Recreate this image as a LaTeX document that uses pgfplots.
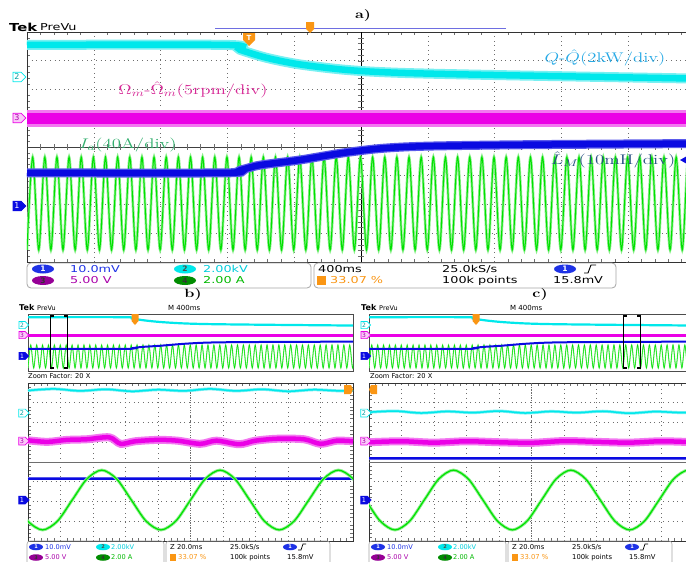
\RequirePackage{fix-cm}
\documentclass[border=0pt]{standalone}
\usepackage{pgfplots}
\pgfplotsset{compat=1.18}
\usepackage{pgfplotstable}
\usepackage{fontspec}
\usetikzlibrary{shapes.symbols,shapes.geometric}
\newfontfamily\tekfont{DejaVu Sans}
\newcommand\tk[1]{\scalebox{1.35}[1]{#1}}
\newcommand\fs[1]{\fontsize{#1}{#1}\selectfont}
\definecolor{chcyan}{RGB}{0,232,235}
\definecolor{chcyanl}{RGB}{120,240,242}
\definecolor{chmag}{RGB}{235,0,230}
\definecolor{chmagl}{RGB}{242,120,240}
\definecolor{chblue}{RGB}{10,10,225}
\definecolor{chbluel}{RGB}{90,90,235}
\definecolor{chgreen}{RGB}{0,225,0}
\definecolor{chgreenl}{RGB}{140,240,140}
\definecolor{tekorange}{RGB}{250,150,20}
\definecolor{labmag}{RGB}{215,40,150}
\definecolor{labcyan}{RGB}{40,170,230}
\definecolor{labgreen}{RGB}{50,175,110}
\definecolor{labblue}{RGB}{40,80,130}
\definecolor{stblue}{RGB}{30,50,230}
\definecolor{stcyan}{RGB}{0,205,220}
\definecolor{stpurple}{RGB}{150,0,150}
\definecolor{stmag}{RGB}{170,0,170}
\definecolor{stgreen}{RGB}{0,140,0}
\definecolor{sttxtgreen}{RGB}{0,185,0}
\definecolor{gridgray}{RGB}{110,110,110}
\definecolor{barblue}{RGB}{110,110,225}

\pgfplotstableread{
x y
0.000 -3.58
0.085 -0.35
0.176 -3.58
0.267 -0.35
0.358 -3.58
0.448 -0.35
0.539 -3.58
0.630 -0.35
0.721 -3.58
0.812 -0.35
0.903 -3.58
0.994 -0.35
1.085 -3.58
1.175 -0.35
1.266 -3.58
1.357 -0.35
1.448 -3.58
1.539 -0.35
1.630 -3.58
1.721 -0.35
1.812 -3.58
1.902 -0.35
1.993 -3.58
2.084 -0.35
2.175 -3.58
2.266 -0.35
2.357 -3.58
2.448 -0.35
2.539 -3.58
2.629 -0.35
2.720 -3.58
2.811 -0.35
2.902 -3.58
2.993 -0.35
3.084 -3.58
3.175 -0.35
3.266 -3.58
3.356 -0.35
3.447 -3.58
3.538 -0.35
3.629 -3.58
3.720 -0.35
3.811 -3.58
3.902 -0.35
3.993 -3.58
4.083 -0.35
4.174 -3.58
4.265 -0.35
4.356 -3.58
4.447 -0.35
4.538 -3.58
4.629 -0.35
4.720 -3.58
4.810 -0.35
4.901 -3.58
4.992 -0.35
5.083 -3.58
5.174 -0.35
5.265 -3.58
5.356 -0.35
5.447 -3.58
5.537 -0.35
5.628 -3.58
5.719 -0.35
5.810 -3.58
5.901 -0.35
5.992 -3.58
6.083 -0.35
6.174 -3.58
6.264 -0.35
6.355 -3.58
6.446 -0.35
6.537 -3.58
6.628 -0.35
6.719 -3.58
6.810 -0.35
6.901 -3.58
6.991 -0.35
7.082 -3.58
7.173 -0.35
7.264 -3.58
7.355 -0.35
7.446 -3.58
7.537 -0.35
7.628 -3.58
7.718 -0.35
7.809 -3.58
7.900 -0.35
7.991 -3.58
8.082 -0.35
8.173 -3.58
8.264 -0.35
8.355 -3.58
8.445 -0.35
8.536 -3.58
8.627 -0.35
8.718 -3.58
8.809 -0.35
8.900 -3.58
8.991 -0.35
9.082 -3.58
9.172 -0.35
9.263 -3.58
9.354 -0.35
9.445 -3.58
9.536 -0.35
9.627 -3.58
9.718 -0.35
9.809 -3.58
9.899 -0.35
9.990 -3.58
10.081 -0.35
}\greenA
\pgfplotstableread{
x y
0.00 3.55
3.00 3.55
3.19 3.38
3.59 3.10
4.09 2.87
4.79 2.68
5.58 2.58
7.08 2.50
10.00 2.38
}\cyanA
\pgfplotstableread{
x y
0 0.98
10 0.98
}\magA
\pgfplotstableread{
x y
0.00 -0.90
2.96 -0.90
3.20 -0.80
3.49 -0.63
4.09 -0.45
4.69 -0.22
5.30 -0.05
6.00 0.03
7.50 0.08
10.00 0.12
}\blueA
\pgfplotstableread{
x y
-0.46 -1.925
-0.005 -2.996
0.45 -3.44
0.905 -2.996
1.36 -1.925
1.815 -0.854
2.27 -0.41
2.725 -0.854
3.18 -1.925
3.635 -2.996
4.09 -3.44
4.545 -2.996
5.00 -1.925
5.455 -0.854
5.91 -0.41
6.365 -0.854
6.82 -1.925
7.275 -2.996
7.73 -3.44
8.185 -2.996
8.64 -1.925
9.095 -0.854
9.55 -0.41
10.005 -0.854
10.46 -1.925
}\greenB
\pgfplotstableread{
x y
0.0 3.62
0.8 3.70
1.6 3.60
2.4 3.68
3.2 3.58
4.0 3.66
4.8 3.60
5.6 3.70
6.4 3.60
7.2 3.68
8.0 3.58
8.8 3.66
9.6 3.60
10.0 3.64
}\cyanB
\pgfplotstableread{
x y
0.0 1.10
0.6 1.02
1.2 1.12
1.8 1.15
2.5 1.25
2.85 0.92
3.3 1.05
4.0 1.12
4.6 1.08
5.3 0.92
5.8 1.08
6.5 0.90
7.0 1.08
7.7 1.18
8.5 1.15
9.0 0.92
9.5 1.08
10.0 1.05
}\magB
\pgfplotstableread{
x y
0 -0.86
10 -0.86
}\blueB
\pgfplotstableread{
x y
-1.01 -0.41
-0.5575 -0.854
-0.105 -1.925
0.3475 -2.996
0.80 -3.44
1.25 -2.996
1.70 -1.925
2.15 -0.854
2.60 -0.41
3.0525 -0.854
3.505 -1.925
3.9575 -2.996
4.41 -3.44
4.86 -2.996
5.31 -1.925
5.76 -0.854
6.21 -0.41
6.6625 -0.854
7.115 -1.925
7.5675 -2.996
8.02 -3.44
8.4725 -2.996
8.925 -1.925
9.3775 -0.854
9.83 -0.41
10.28 -0.854
}\greenC
\pgfplotstableread{
x y
0.0 2.52
0.8 2.58
1.6 2.48
2.4 2.56
3.2 2.50
4.0 2.58
4.8 2.48
5.6 2.56
6.4 2.50
7.2 2.57
8.0 2.47
8.8 2.55
9.6 2.50
10.0 2.53
}\cyanC
\pgfplotstableread{
x y
0 1.00
1 1.05
2 0.98
3 1.05
4 1.00
5 0.97
6 1.06
7 1.02
8 0.98
9 1.05
10 1.00
}\magC
\pgfplotstableread{
x y
0 0.20
10 0.20
}\blueC

\pgfplotsset{
  tekgrid/.style={scale only axis, xmin=0, xmax=10, ymin=-4, ymax=4,
    xtick={0,...,10}, ytick={-4,...,4}, xticklabels={}, yticklabels={},
    grid=major, major grid style={draw=gridgray, line width=0.6pt, dash pattern=on 0.6pt off 4pt},
    major tick length=0pt, minor x tick num=4, minor y tick num=4,
    minor tick length=3pt, minor tick style={gridgray, line width=0.4pt},
    axis line style={draw=gray!40!black, line width=0.6pt}, clip=true},
  ovw/.style={scale only axis, xmin=0, xmax=10, ymin=-4, ymax=4,
    xtick=\empty, ytick=\empty,
    axis line style={draw=gray!60!black, line width=0.5pt}, clip=true},
}

% channel marker: x y size draw fill text label
\newcommand\chm[7]{\node[signal, signal to=east, draw=#4, fill=#5, text=#6,
  line width=0.7pt, inner xsep=1pt, inner ysep=0.3pt, minimum width=1.6*#3pt, minimum height=1.2*#3pt,
  font=\tekfont\fs{#3}] at ({#1},{#2}) {#7};}
% oval: x y w h fill textcolor label fontsize
\newcommand\ov[8]{\node[ellipse, fill=#5, minimum width=#3pt, minimum height=#4pt, inner sep=0pt,
  text=#6, font=\tekfont\bfseries\fs{#8}] at ({#1},{#2}) {#7};}

\newcommand\bcdeco[1]{%
  \node[anchor=west, font=\tekfont\bfseries\fs{8}] at ({#1+19},308) {Tek};
  \node[anchor=west, font=\tekfont\fs{6.5}] at ({#1+37},308) {PreVu};
  \node[anchor=west, font=\tekfont\fs{7}] at ({#1+168},308) {M 400ms};
  \node[anchor=west, font=\tekfont\fs{6.7}] at ({#1+28},376) {Zoom Factor: 20 X};
  \chm{#1+22}{325}{6}{chcyan}{white}{chcyan!70!black}{2}
  \chm{#1+22}{335}{6}{chmag}{chmagl!40}{stmag}{3}
  \chm{#1+22}{356}{6}{chblue}{chblue}{white}{1}
  \chm{#1+22}{413}{6.5}{chcyan}{white}{chcyan!70!black}{2}
  \chm{#1+22}{441}{6.5}{chmag}{chmagl!40}{stmag}{3}
  \chm{#1+22}{500}{6.5}{chblue}{chblue}{white}{1}
  \draw[gray!70, line width=0.6pt, rounded corners=3pt] ({#1+27},541) rectangle ({#1+164},567);
  \draw[gray!70, line width=0.6pt, rounded corners=3pt] ({#1+166},541) rectangle ({#1+330},567);
  \ov{#1+36}{547}{14}{6.5}{stblue}{white}{1}{5}
  \ov{#1+103}{547}{14}{6.5}{chcyan}{black!70}{2}{5}
  \ov{#1+36}{557.5}{14}{6.5}{stpurple}{black!80}{3}{5}
  \ov{#1+103}{557.5}{14}{6.5}{stgreen}{black!80}{4}{5}
  \ov{#1+290}{547}{14}{6.5}{stblue}{white}{1}{5}
  \node[anchor=west, text=stblue, font=\tekfont\fs{6.6}] at ({#1+45},547) {10.0mV};
  \node[anchor=west, text=stcyan, font=\tekfont\fs{6.6}] at ({#1+111},547) {2.00kV};
  \node[anchor=west, text=stmag, font=\tekfont\fs{6.6}] at ({#1+45},557.5) {5.00 V};
  \node[anchor=west, text=sttxtgreen, font=\tekfont\fs{6.6}] at ({#1+111},557.5) {2.00 A};
  \node[anchor=west, font=\tekfont\fs{6.8}] at ({#1+170},547) {Z 20.0ms};
  \node[anchor=west, font=\tekfont\fs{6.8}] at ({#1+230},547) {25.0kS/s};
  \node[anchor=west, font=\tekfont\fs{6.8}] at ({#1+230},557.5) {100k points};
  \node[anchor=west, font=\tekfont\fs{6.8}] at ({#1+287},557.5) {15.8mV};
  \fill[tekorange] ({#1+170},554) rectangle ({#1+176},561);
  \node[anchor=west, text=tekorange, font=\tekfont\fs{6.8}] at ({#1+178},557.5) {33.07 \%};
  \draw[black, line width=0.7pt] ({#1+298},550) -- ({#1+301},550) -- ({#1+303},544) -- ({#1+306},544);
}

\begin{document}
\begin{tikzpicture}
\useasboundingbox (0pt,0pt) rectangle (686pt,-562pt);
\fill[white] (0pt,0pt) rectangle (686pt,-562pt);
\clip (0pt,0pt) rectangle (686pt,-562pt);

% ---------- panel a ----------
\begin{axis}[tekgrid, at={(27pt,-32pt)}, anchor=north west, width=668pt, height=230pt]
\draw[black, line width=1pt] (axis cs:5,-4) -- (axis cs:5,4);
\draw[black!75, line width=0.8pt] (axis cs:0,0) -- (axis cs:10,0);
\pgfplotsinvokeforeach{0.2,0.4,...,9.8}{\draw[gridgray, line width=0.4pt] (axis cs:#1,-0.1) -- (axis cs:#1,0.1);}
\pgfplotsinvokeforeach{-3.8,-3.6,...,3.8}{\draw[gridgray, line width=0.4pt] (axis cs:4.955,#1) -- (axis cs:5.045,#1);}
\addplot[chgreenl, line width=2.6pt, smooth] table {\greenA};
\addplot[chgreen, line width=1pt, smooth] table {\greenA};
\addplot[chcyanl, line width=10pt, smooth] table {\cyanA};
\addplot[chcyan, line width=6.5pt, smooth] table {\cyanA};
\addplot[chmagl, line width=17pt] table {\magA};
\addplot[chmag, line width=11pt] table {\magA};
\addplot[chbluel, line width=9pt, smooth] table {\blueA};
\addplot[chblue, line width=6.5pt, smooth] table {\blueA};
\end{axis}

% ---------- panel b overview ----------
\begin{axis}[ovw, at={(28pt,-314pt)}, anchor=north west, width=325pt, height=57pt]
\addplot[chgreenl, line width=1.1pt, smooth] table {\greenA};
\addplot[chgreen, line width=0.5pt, smooth] table {\greenA};
\addplot[chcyan, line width=2.2pt, smooth] table {\cyanA};
\addplot[chmag, line width=3.5pt] table {\magA};
\addplot[chblue, line width=2pt, smooth] table {\blueA};
\end{axis}
% ---------- panel c overview ----------
\begin{axis}[ovw, at={(369pt,-314pt)}, anchor=north west, width=325pt, height=57pt]
\addplot[chgreenl, line width=1.1pt, smooth] table {\greenA};
\addplot[chgreen, line width=0.5pt, smooth] table {\greenA};
\addplot[chcyan, line width=2.2pt, smooth] table {\cyanA};
\addplot[chmag, line width=3.5pt] table {\magA};
\addplot[chblue, line width=2pt, smooth] table {\blueA};
\end{axis}

% ---------- panel b zoom ----------
\begin{axis}[tekgrid, at={(28pt,-383pt)}, anchor=north west, width=325pt, height=158pt]
\draw[gridgray, line width=0.7pt, dash pattern=on 1pt off 1.5pt] (axis cs:5,-4) -- (axis cs:5,4);
\draw[gridgray, line width=0.6pt] (axis cs:0,0) -- (axis cs:10,0);
\addplot[chbluel, line width=3pt] table {\blueB};
\addplot[chblue, line width=1.8pt] table {\blueB};
\addplot[chgreenl, line width=3pt, smooth] table {\greenB};
\addplot[chgreen, line width=1.2pt, smooth] table {\greenB};
\addplot[chcyanl, line width=3pt, smooth] table {\cyanB};
\addplot[chcyan, line width=1.5pt, smooth] table {\cyanB};
\addplot[chmagl, line width=8pt, smooth] table {\magB};
\addplot[chmag, line width=4.5pt, smooth] table {\magB};
\end{axis}
% ---------- panel c zoom ----------
\begin{axis}[tekgrid, at={(369pt,-383pt)}, anchor=north west, width=325pt, height=158pt]
\draw[gridgray, line width=0.7pt, dash pattern=on 1pt off 1.5pt] (axis cs:5,-4) -- (axis cs:5,4);
\draw[gridgray, line width=0.6pt] (axis cs:0,0) -- (axis cs:10,0);
\addplot[chbluel, line width=3pt] table {\blueC};
\addplot[chblue, line width=1.8pt] table {\blueC};
\addplot[chgreenl, line width=3pt, smooth] table {\greenC};
\addplot[chgreen, line width=1.2pt, smooth] table {\greenC};
\addplot[chcyanl, line width=3pt, smooth] table {\cyanC};
\addplot[chcyan, line width=1.5pt, smooth] table {\cyanC};
\addplot[chmagl, line width=8pt, smooth] table {\magC};
\addplot[chmag, line width=4.5pt, smooth] table {\magC};
\end{axis}

% ---------- decorations ----------
\begin{scope}[x=1pt, y=-1pt, every node/.style={inner sep=0pt}]
% panel a header
\node[anchor=west, font=\tekfont\bfseries\fs{11}] at (9,27) {\tk{Tek}};
\node[anchor=west, font=\tekfont\fs{9.5}] at (40,27) {\tk{PreVu}};
\draw[barblue, line width=1pt] (215,28) -- (506,28);
\fill[tekorange] (306,22) -- (314,22) -- (314,29) -- (310,33) -- (306,29) -- cycle;
\node[font=\bfseries\fs{12}] at (363,16) {\tk{a)}};
\fill[tekorange] (243,33) -- (255,33) -- (255,40) -- (249,46) -- (243,40) -- cycle;
\node[text=white, font=\tekfont\bfseries\fs{7}] at (249,38) {T};
% labels
\node[text=labmag, font=\fs{14}] at (193,90) {\tk{$\Omega_m$-$\hat{\Omega}_m$(5rpm/div)}};
\node[text=labcyan, font=\fs{14}] at (605,58) {\tk{$Q$-$\hat{Q}$(2kW/div)}};
\node[text=labgreen, font=\fs{14}] at (128,145) {\tk{$I_a$(40A/div)}};
\node[text=labblue, font=\fs{14}] at (613,160) {\tk{$\hat{L}_M$(10mH/div)}};
\fill[chblue] (680,160) -- (687,156) -- (687,164) -- cycle;
% channel markers a
\chm{17}{77}{8}{chcyan}{white}{chcyan!70!black}{2}
\chm{17}{118}{8}{chmag}{chmagl!40}{stmag}{3}
\chm{17}{206}{8}{chblue}{chblue}{white}{1}
% status a
\draw[gray!70, line width=0.8pt, rounded corners=4pt] (27,263) rectangle (311,288);
\draw[gray!70, line width=0.8pt, rounded corners=4pt] (314,263) rectangle (616,288);
\ov{43}{269}{22}{9}{stblue}{white}{1}{7.5}
\ov{185}{269}{22}{9}{chcyan}{black!70}{2}{7.5}
\ov{43}{280.5}{22}{9}{stpurple}{black!80}{3}{7.5}
\ov{185}{280.5}{22}{9}{stgreen}{black!80}{4}{7.5}
\ov{565}{269}{22}{9}{stblue}{white}{1}{7.5}
\node[anchor=west, text=stblue, font=\tekfont\fs{9.5}] at (70,269) {\tk{10.0mV}};
\node[anchor=west, text=stcyan, font=\tekfont\fs{9.5}] at (203,269) {\tk{2.00kV}};
\node[anchor=west, text=stmag, font=\tekfont\fs{9.5}] at (70,280.5) {\tk{5.00 V}};
\node[anchor=west, text=sttxtgreen, font=\tekfont\fs{9.5}] at (203,280.5) {\tk{2.00 A}};
\node[anchor=west, font=\tekfont\fs{9.5}] at (318,269) {\tk{400ms}};
\node[anchor=west, font=\tekfont\fs{9.5}] at (442,269) {\tk{25.0kS/s}};
\node[anchor=west, font=\tekfont\fs{9.5}] at (442,280.5) {\tk{100k points}};
\node[anchor=west, font=\tekfont\fs{9.5}] at (553,280.5) {\tk{15.8mV}};
\fill[tekorange] (317,276) rectangle (326,285);
\node[anchor=west, text=tekorange, font=\tekfont\fs{9.5}] at (330,280.5) {\tk{33.07 \%}};
\draw[black, line width=0.9pt] (584,273) -- (588,273) -- (591,265) -- (596,265);
% panels b, c
\node[font=\bfseries\fs{12}] at (193,295) {\tk{b)}};
\node[font=\bfseries\fs{12}] at (540,295) {\tk{c)}};
\bcdeco{0}
\bcdeco{342}
% brackets
\draw[black, line width=1.4pt] (54,316) -- (50.5,316) -- (50.5,368) -- (54,368);
\draw[black, line width=1.4pt] (64,316) -- (67.5,316) -- (67.5,368) -- (64,368);
\draw[black, line width=1.4pt] (627,316) -- (623.5,316) -- (623.5,368) -- (627,368);
\draw[black, line width=1.4pt] (637,316) -- (640.5,316) -- (640.5,368) -- (637,368);
% trigger markers
\fill[tekorange] (131.5,314) -- (138.5,314) -- (138.5,321) -- (135,325) -- (131.5,321) -- cycle;
\fill[tekorange] (472.5,314) -- (479.5,314) -- (479.5,321) -- (476,325) -- (472.5,321) -- cycle;
\fill[tekorange] (344,385) -- (351,385) -- (353,389.5) -- (351,394) -- (344,394) -- cycle;
\fill[tekorange] (377,385) -- (371,385) -- (369,389.5) -- (371,394) -- (377,394) -- cycle;
\end{scope}
\end{tikzpicture}
\end{document}
